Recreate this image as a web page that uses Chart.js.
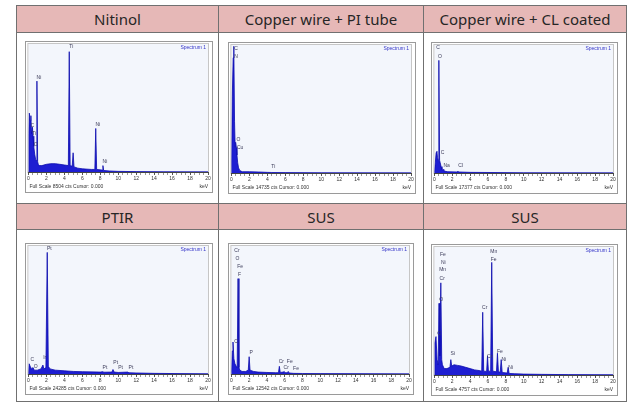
<!DOCTYPE html>
<html><head><meta charset="utf-8">
<script src="https://cdn.jsdelivr.net/npm/chart.js@4.4.0/dist/chart.umd.min.js"></script>
<style>
body{margin:0;background:#fff;width:640px;height:406px;overflow:hidden;position:relative;font-family:"Noto Sans","Liberation Sans",sans-serif}
.ln{position:absolute;background:#707070}
.hd{position:absolute;background:#e6b8b7;color:#262626;font-size:15px;display:flex;align-items:center;justify-content:center;white-space:nowrap}
.fr{position:absolute;border:1px solid #9a9a9a;background:#fff;box-sizing:border-box}
.fr canvas{position:absolute;left:0;top:0}
</style></head><body>
<div id="root"></div>
<script>
// ---------------- data ----------------
const titles = ["Nitinol", "Copper wire + PI tube", "Copper wire + CL coated", "PTIR", "SUS", "SUS"];
const fullScales = [8504, 14735, 17377, 24285, 12542, 4757];
const xTickLabels = [0, 2, 4, 6, 8, 10, 12, 14, 16, 18, 20];

// spectrum points: energy (keV) and intensity (% of full scale)
const nitinolE   = [0,0.05,0.1,0.2,0.28,0.35,0.45,0.52,0.6,0.7,0.8,0.87,0.95,1.03,1.1,1.2,1.5,2,2.5,3,3.5,4,4.45,4.55,4.65,4.88,4.98,5.08,5.5,6,7,7.4,7.5,7.6,8.22,8.3,8.38,9,10,12,15,20];
const nitinolPct = [0,30,46,40,44,30,35,28,20,14,10,9,71,8,6,5,5,6,6.5,6.5,6,5.5,5,94,5,4.5,15,4,3,2.5,2,2,34,2,1.5,5,1.2,0.8,0.5,0.3,0.2,0.1];
const nitinolTag    = ["Ti","Ni","Ni","Ni","C","Ti","O"];
const nitinolTagE   = [4.55,0.95,7.5,8.3,0.22,0.4,0.6];
const nitinolTagPct = [98,74,37,8,36,30,21];

const cuPiE   = [0,0.1,0.2,0.27,0.35,0.42,0.47,0.55,0.62,0.7,0.8,0.93,1.2,2,3,4,4.5,6,10,20];
const cuPiPct = [0,60,90,99,40,20,24,20,14,8,4,2,1,1,0.8,0.5,0.4,0.3,0.2,0.1];
const cuPiTag    = ["C","N","O","Cu","Ti"];
const cuPiTagE   = [0.3,0.3,0.55,0.75,4.45];
const cuPiTagPct = [97,91,26,20,5];

const cuClE   = [0,0.1,0.2,0.28,0.35,0.42,0.5,0.58,0.65,0.75,0.85,1.0,1.04,1.1,1.5,2.55,2.62,2.7,4,10,20];
const cuClPct = [0,8,16,17,12,10,88,10,8,5,3,2,3,1.5,1,0.8,1.5,0.8,0.5,0.2,0.1];
const cuClTag    = ["C","O","C","Na","Cl"];
const cuClTagE   = [0.2,0.4,0.7,1.15,2.7];
const cuClTagPct = [98,91,16,6,6];

const ptirE   = [0,0.08,0.2,0.35,0.52,0.65,1.0,1.4,1.62,1.72,1.95,2.1,2.22,2.4,3,4,5,6,8,8.3,8.4,9.3,9.42,9.55,10,11.05,11.2,12,14,17,20];
const ptirPct = [0,8,6,4,5,3,3,4,7,4,5,95,6,4,3,2.5,2,1.8,1.5,1.8,1.4,1.5,3.5,1.5,1.2,1.5,1.0,0.8,0.5,0.3,0.2];
const ptirTag    = ["Pt","C","O","Ir","Pt","Pt","Pt","Pt"];
const ptirTagE   = [2.1,0.2,0.6,1.6,8.3,9.5,10.05,11.2];
const ptirTagPct = [98,11,6,13,5,9,5,5];

const sus1E   = [0,0.1,0.18,0.28,0.4,0.55,0.65,0.75,0.85,0.95,1.2,1.6,1.9,2.0,2.1,2.5,3,4,5,5.3,5.4,5.5,5.85,5.95,6.05,6.3,6.4,6.5,7,8,10,20];
const sus1Pct = [0,18,25,12,8,6,5,74.5,5,3,2,2,3,13.5,3,2,1.5,1.2,1,1,6,1.2,1.5,2,1,1,2,0.8,0.5,0.4,0.3,0.1];
const sus1Tag    = ["Cr","O","Fe","F","C","P","Cr","Fe","Cr","Fe"];
const sus1TagE   = [0.4,0.45,0.75,0.68,0.3,2.0,5.4,6.35,5.95,7.05];
const sus1TagPct = [96,90,84,78,25,17,9.5,9.5,5,4.5];

const sus2E   = [0,0.05,0.18,0.3,0.42,0.52,0.6,0.72,0.82,0.9,1.1,1.4,1.74,1.84,1.94,2.2,2.6,3,3.5,4,4.5,5,5.3,5.41,5.52,5.85,5.95,6.05,6.3,6.42,6.54,6.95,7.06,7.17,7.37,7.48,7.59,8.15,8.26,8.37,9,10,12,15,20];
const sus2Pct = [0,25,30,12,8,56,15,72,12,8,5,5,6,12,7,8,7.5,7,6,5,4,3.5,3,49,3,2.8,15,3,3,88,3,2.5,17,2.5,2.2,12,2,1.5,6,1.2,1,0.7,0.5,0.3,0.2];
const sus2Tag    = ["Fe","Ni","Mn","Cr","O","C","Si","Cr","Mn","Fe","Cr","Fe","Ni","Ni"];
const sus2TagE   = [0.72,0.78,0.7,0.65,0.55,0.3,1.84,5.41,6.42,6.42,5.97,7.1,7.55,8.3];
const sus2TagPct = [94,88,82,75,59,32,17,53,96,90,14,18,12,6];

// -------------- layout ----------------
const root = document.getElementById('root');
function box(cls, l, t, w, h, txt){
  const d=document.createElement('div'); d.className=cls;
  d.style.left=l+'px'; d.style.top=t+'px'; d.style.width=w+'px'; d.style.height=h+'px';
  if(txt!==undefined) d.textContent=txt;
  root.appendChild(d); return d;
}
const colX=[16,218,423,626];
// header cells
for(let c=0;c<3;c++){
  box('hd', colX[c]+1, 6, colX[c+1]-colX[c]-1, 26, titles[c]);
  box('hd', colX[c]+1, 204, colX[c+1]-colX[c]-1, 25, titles[c+3]);
}
// grid lines
[5,32,203,229,401].forEach(y=>box('ln',16,y,611,1));
colX.forEach(x=>box('ln',x,5,1,397));

const frames=[[25,41,188,152],[228,42,188,152],[431,42,187,152],[25,243,188,152],[228,243,186,152],[431,244,187,152]];
const series=[
  [nitinolE,nitinolPct,nitinolTag,nitinolTagE,nitinolTagPct],
  [cuPiE,cuPiPct,cuPiTag,cuPiTagE,cuPiTagPct],
  [cuClE,cuClPct,cuClTag,cuClTagE,cuClTagPct],
  [ptirE,ptirPct,ptirTag,ptirTagE,ptirTagPct],
  [sus1E,sus1Pct,sus1Tag,sus1TagE,sus1TagPct],
  [sus2E,sus2Pct,sus2Tag,sus2TagE,sus2TagPct]
];

const edsPlugin={
  id:'eds',
  beforeDraw(chart){
    const {ctx,chartArea:a}=chart;
    ctx.save();
    ctx.fillStyle='#f3f6fc';
    ctx.fillRect(a.left,a.top,a.right-a.left,a.bottom-a.top);
    ctx.strokeStyle='#c6c6c6'; ctx.lineWidth=1;
    ctx.strokeRect(a.left-0.5,a.top-0.5,a.right-a.left+1,a.bottom-a.top+1);
    ctx.restore();
  },
  afterDraw(chart,args,o){
    const {ctx,chartArea:a}=chart;
    const xs=chart.scales.x, ys=chart.scales.y;
    ctx.save();
    ctx.font='5px "Liberation Sans", Arial, sans-serif';
    ctx.textAlign='center'; ctx.textBaseline='middle';
    ctx.fillStyle='#3c3c5a';
    o.tags.forEach((t,i)=>{
      ctx.fillText(t, xs.getPixelForValue(o.tagE[i])+2, ys.getPixelForValue(o.tagPct[i]));
    });
    ctx.fillStyle='#3535c8'; ctx.textAlign='right';
    ctx.fillText('Spectrum 1', a.right-2, a.top+4);
    ctx.fillStyle='#333'; ctx.textAlign='left';
    ctx.fillText('Full Scale '+o.fs+' cts Cursor: 0.000', a.left+1, chart.height-5);
    ctx.textAlign='right';
    ctx.fillText('keV', a.right, chart.height-5);
    ctx.restore();
  }
};

frames.forEach((f,i)=>{
  const fr=box('fr',f[0],f[1],f[2],f[3]);
  const cv=document.createElement('canvas');
  cv.width=f[2]-2; cv.height=f[3]-2;
  cv.style.width=(f[2]-2)+'px'; cv.style.height=(f[3]-2)+'px';
  fr.appendChild(cv);
  const [E,P,T,TE,TP]=series[i];
  new Chart(cv,{
    type:'line',
    data:{datasets:[{data:E.map((e,k)=>({x:e,y:P[k]})),fill:'origin',backgroundColor:'#1e1ed2',borderColor:'#0c0cae',borderWidth:0.8,pointRadius:0,tension:0}]},
    options:{
      responsive:false, animation:false, devicePixelRatio:1,
      layout:{padding:{left:1,right:4,top:2,bottom:9}},
      scales:{
        x:{type:'linear',min:0,max:20,
           afterBuildTicks(s){ s.ticks=[]; for(let v=0;v<=40;v++) s.ticks.push({value:v/2}); },
           ticks:{autoSkip:false,maxRotation:0,padding:1,color:'#333',font:{size:5,family:'"Liberation Sans", Arial'},
             callback:v=> xTickLabels.includes(v)? String(v):''},
           grid:{drawOnChartArea:false,tickLength:3,color:'#555',tickWidth:c=> (c.tick && xTickLabels.includes(c.tick.value))?1:0.6},
           border:{color:'#444',width:1}},
        y:{min:0,max:100,display:false}
      },
      plugins:{legend:{display:false},tooltip:{enabled:false},
        eds:{tags:T,tagE:TE,tagPct:TP,fs:fullScales[i]}}
    },
    plugins:[edsPlugin]
  });
});
</script>
</body></html>
